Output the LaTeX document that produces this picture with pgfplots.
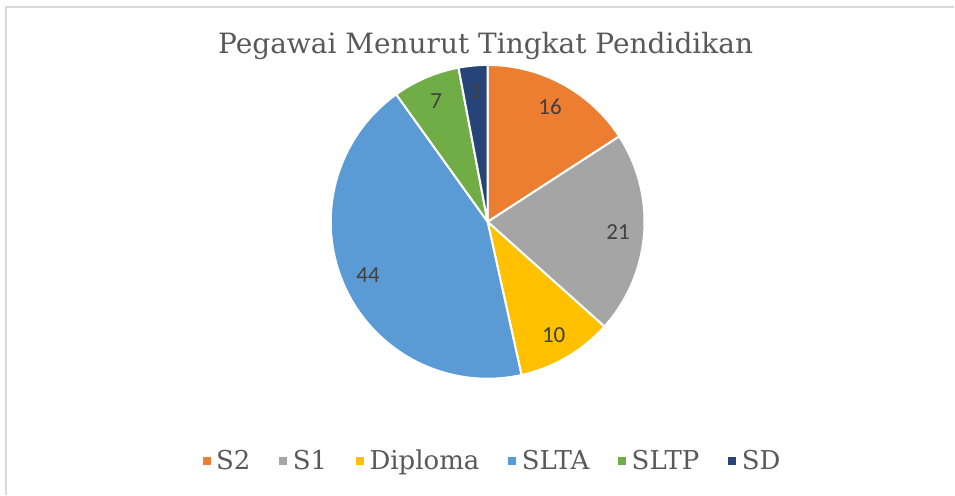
\documentclass[border=0pt]{standalone}
\usepackage{pgfplots}
\pgfplotsset{compat=1.18}
\usepackage{pgfplotstable}
\usepackage{fontspec}
\setmainfont{DejaVu Serif}
\newfontfamily\labfont{Carlito}
\definecolor{pie0}{HTML}{ED7D31}
\definecolor{pie1}{HTML}{A5A5A5}
\definecolor{pie2}{HTML}{FFC000}
\definecolor{pie3}{HTML}{5B9BD5}
\definecolor{pie4}{HTML}{70AD47}
\definecolor{pie5}{HTML}{264478}
\definecolor{txt}{HTML}{595959}
\definecolor{lab}{HTML}{404040}
\pgfplotstableread{
label value
S2 16
S1 21
Diploma 10
SLTA 44
SLTP 7
SD 3
}\piedata
\begin{document}
\begin{tikzpicture}
% cumulative angles from the data
\def\total{0}
\pgfplotsforeachungrouped \i in {0,...,5}{%
  \pgfplotstablegetelem{\i}{value}\of\piedata
  \pgfmathsetmacro\total{\total+\pgfplotsretval}%
}
\def\cum{0}
\pgfplotsforeachungrouped \i in {0,...,5}{%
  \pgfplotstablegetelem{\i}{value}\of\piedata
  \let\v\pgfplotsretval
  \pgfmathsetmacro\sa{90-\cum/\total*360}%
  \pgfmathsetmacro\ea{90-(\cum+\v)/\total*360}%
  \pgfmathsetmacro\ma{(\sa+\ea)/2}%
  \expandafter\xdef\csname pieS\i\endcsname{\sa}%
  \expandafter\xdef\csname pieE\i\endcsname{\ea}%
  \expandafter\xdef\csname pieM\i\endcsname{\ma}%
  \expandafter\xdef\csname pieV\i\endcsname{\v}%
  \pgfplotstablegetelem{\i}{label}\of\piedata
  \expandafter\xdef\csname pieL\i\endcsname{\pgfplotsretval}%
  \pgfmathsetmacro\cum{\cum+\v}%
}
\begin{axis}[
  scale only axis, width=955pt, height=495pt,
  xmin=0, xmax=955, ymin=-495, ymax=0,
  hide axis, clip=false,
  legend columns=6,
  legend style={at={(axis cs:492,-461)}, anchor=center, draw=none, fill=none,
    font=\fontsize{26}{28}\selectfont, text=txt,
    nodes={inner xsep=0pt},
    /tikz/every odd column/.append style={column sep=6pt},
    /tikz/every even column/.append style={column sep=29pt}},
  legend cell align=left,
]
\path (axis cs:0,0) rectangle (axis cs:955,-495);
\draw[black!15, line width=1.5pt] (axis cs:6,-495) -- (axis cs:6,-7) -- (axis cs:955,-7);
\node[text=txt, font=\fontsize{28}{32}\selectfont] at (axis cs:486,-46) {Pegawai Menurut Tingkat Pendidikan};
\pgfplotsinvokeforeach{0,...,5}{%
  \filldraw[fill=pie#1, draw=white, line width=2pt, line join=round]
    (axis cs:488,-222) -- ++(\csname pieS#1\endcsname:157pt)
    arc[start angle=\csname pieS#1\endcsname, end angle=\csname pieE#1\endcsname, radius=157pt] -- cycle;
}
\pgfplotsinvokeforeach{0,...,5}{%
  \path (axis cs:488,-222) ++(\csname pieM#1\endcsname:131pt)
    node[text=lab, font=\labfont\fontsize{23}{25}\selectfont] {\csname pieV#1\endcsname};
}
\pgfplotsinvokeforeach{0,...,5}{%
  \addlegendimage{legend image code/.code={\fill[pie#1] (0pt,-3.5pt) rectangle (7pt,3.5pt);}}
  \addlegendentry{\csname pieL#1\endcsname}
}
\end{axis}
\end{tikzpicture}
\end{document}
